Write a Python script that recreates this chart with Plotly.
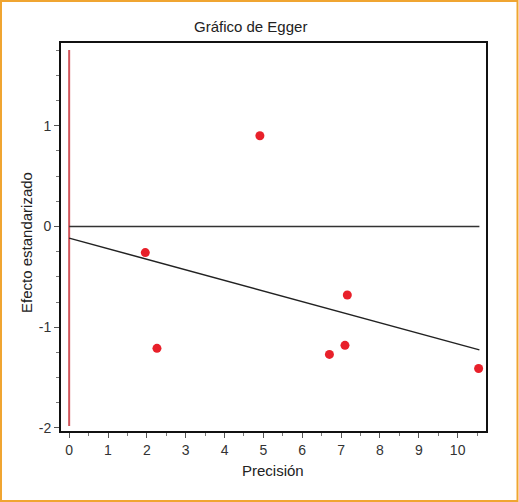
import plotly.graph_objects as go

# Data
precision = [1.96, 2.26, 4.91, 6.70, 7.10, 7.16, 10.54]
std_effect = [-0.26, -1.21, 0.90, -1.27, -1.18, -0.68, -1.41]

egger_intercept = -0.116
egger_slope = -0.105
line_x_end = 10.56

ref_line_y = [-1.98, 1.75]   # vertical reference line at precision 0
zero_line_y = 0

x_ticks = list(range(0, 11))
y_ticks = [-2, -1, 0, 1]
y_tick_labels = ["-2", "-1", "0", "1"]

W, H = 519, 502
L, R, T, B = 61, 33, 43, 71
pw, ph = W - L - R, H - T - B

def px(x):
    return (x - L) / pw

def py(y):
    return (H - B - y) / ph

fig = go.Figure()

fig.add_trace(go.Scatter(x=[0, 0], y=ref_line_y, mode="lines",
                         line=dict(color="#D0545A", width=2), hoverinfo="skip"))
fig.add_trace(go.Scatter(x=[0, line_x_end], y=[zero_line_y, zero_line_y], mode="lines",
                         line=dict(color="#333333", width=1.5), hoverinfo="skip"))
fig.add_trace(go.Scatter(x=[0, line_x_end],
                         y=[egger_intercept, egger_intercept + egger_slope * line_x_end],
                         mode="lines", line=dict(color="#222222", width=1.5), hoverinfo="skip"))
fig.add_trace(go.Scatter(x=precision, y=std_effect, mode="markers",
                         marker=dict(color="#E8202A", size=9, line=dict(width=0))))

font_family = "Liberation Sans, Arial, sans-serif"
axis_font = dict(family=font_family, size=14, color="#333333")
label_font = dict(family=font_family, size=15, color="#222222")

fig.update_xaxes(range=[-0.21, 10.73], tickvals=x_ticks, ticks="outside", ticklen=5,
                 tickcolor="#555555", tickwidth=1,
                 minor=dict(dtick=0.5, tick0=0, ticks="outside", ticklen=3, tickcolor="#777777"),
                 showgrid=False, zeroline=False, showline=True, linecolor="#111111",
                 linewidth=2, mirror=True, tickfont=axis_font)
fig.update_yaxes(range=[-2.03, 1.82], tickvals=y_ticks, ticktext=y_tick_labels,
                 ticks="outside", ticklen=5, tickcolor="#555555", tickwidth=1,
                 minor=dict(dtick=0.25, tick0=0, ticks="outside", ticklen=3, tickcolor="#777777"),
                 showgrid=False, zeroline=False, showline=True, linecolor="#111111",
                 linewidth=2, mirror=True, tickfont=axis_font)

fig.update_layout(
    width=W, height=H,
    margin=dict(l=L, r=R, t=T, b=B),
    paper_bgcolor="white", plot_bgcolor="white",
    showlegend=False,
    annotations=[
        dict(text="Gráfico de Egger", xref="paper", yref="paper", x=px(250), y=py(27),
             showarrow=False, xanchor="center", yanchor="middle", font=label_font),
        dict(text="Efecto estandarizado", xref="paper", yref="paper", x=px(27), y=py(243),
             showarrow=False, textangle=-90, xanchor="center", yanchor="middle",
             font=label_font),
        dict(text="Precisión", xref="paper", yref="paper", x=px(273), y=py(470),
             showarrow=False, xanchor="center", yanchor="middle", font=label_font),
    ],
    shapes=[
        dict(type="rect", xref="paper", yref="paper",
             x0=px(1), x1=px(517.5), y0=py(501), y1=py(1),
             line=dict(color="#F0A531", width=2), fillcolor="rgba(0,0,0,0)"),
    ],
)

fig.write_html("out.html", config={"displayModeBar": False},
               post_script="document.body.style.margin='0';document.body.style.overflow='hidden';")
